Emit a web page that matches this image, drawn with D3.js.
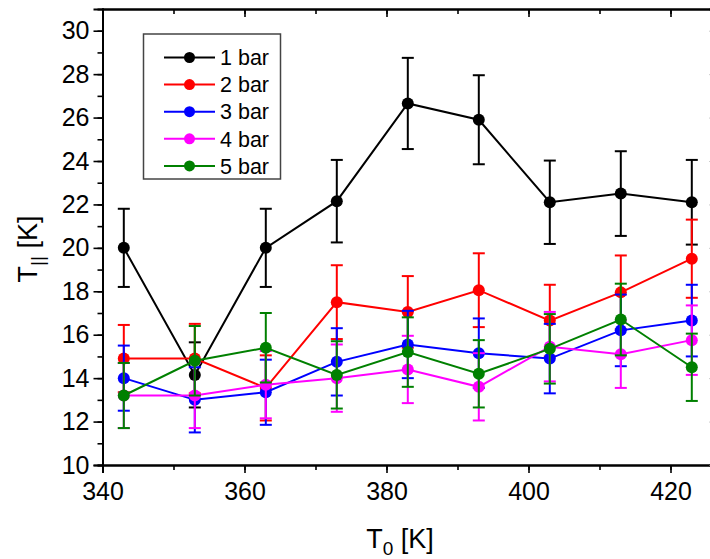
<!DOCTYPE html>
<html>
<head>
<meta charset="utf-8">
<script src="https://cdn.jsdelivr.net/npm/d3@7"></script>
<style>
  html, body { margin: 0; padding: 0; background: #fff; }
  svg { display: block; font-family: "Liberation Sans", Arial, sans-serif; }
</style>
</head>
<body>
<svg id="chart" width="710" height="559"></svg>
<script>
// Temperature of the source (x) and parallel temperature per pressure series
const temps = [343, 353, 363, 373, 383, 393, 403, 413, 423];
const seriesNames = ["1 bar", "2 bar", "3 bar", "4 bar", "5 bar"];
const seriesColors = ["#000000", "#ff0000", "#0000ff", "#ff00ff", "#008000"];

const tPar1 = [20.0, 14.15, 20.0, 22.15, 26.65, 25.9, 22.1, 22.5, 22.1];
const err1  = [1.8, 1.5, 1.8, 1.9, 2.1, 2.05, 1.92, 1.95, 1.95];
const tPar2 = [14.9, 14.9, 13.55, 17.5, 17.05, 18.05, 16.65, 17.95, 19.5];
const err2  = [1.55, 1.6, 1.5, 1.7, 1.65, 1.7, 1.65, 1.7, 1.8];
const tPar3 = [14.0, 13.0, 13.35, 14.75, 15.55, 15.15, 14.9, 16.2, 16.65];
const err3  = [1.5, 1.5, 1.5, 1.55, 1.55, 1.6, 1.6, 1.65, 1.65];
const tPar4 = [13.2, 13.2, 13.7, 14.0, 14.4, 13.6, 15.45, 15.1, 15.75];
const err4  = [1.5, 1.5, 1.55, 1.55, 1.55, 1.55, 1.6, 1.55, 1.6];
const tPar5 = [13.2, 14.8, 15.4, 14.15, 15.2, 14.2, 15.35, 16.7, 14.5];
const err5  = [1.5, 1.6, 1.6, 1.55, 1.6, 1.55, 1.6, 1.65, 1.55];

const xTicks = [340, 360, 380, 400, 420];
const yTicks = [10, 12, 14, 16, 18, 20, 22, 24, 26, 28, 30];

const values = [tPar1, tPar2, tPar3, tPar4, tPar5];
const errors = [err1, err2, err3, err4, err5];

const svg = d3.select("#chart");
const plotLeft = 102.5, plotRight = 712, plotTop = 9, plotBottom = 465;

const x = d3.scaleLinear().domain([340, 340 + (plotRight - plotLeft) / 7.1]).range([plotLeft, plotRight]);
const y = d3.scaleLinear().domain([10, 31]).range([plotBottom, plotTop]);

const minorX = d3.range(340, 426, 10);
const minorY = d3.range(10, 31, 1);

// Frame: left and bottom with outward ticks, top and right with inward ticks
svg.append("g").attr("transform", `translate(0,${plotBottom})`)
  .call(d3.axisBottom(x).tickValues(minorX).tickSize(5).tickFormat(""));
const bottomMajor = svg.append("g").attr("transform", `translate(0,${plotBottom})`)
  .call(d3.axisBottom(x).tickValues(xTicks).tickSize(8).tickPadding(6).tickFormat(d3.format("d")));

svg.append("g").attr("transform", `translate(${plotLeft},0)`)
  .call(d3.axisLeft(y).tickValues(minorY).tickSize(5).tickFormat(""));
svg.append("g").attr("transform", `translate(${plotLeft},0)`)
  .call(d3.axisLeft(y).tickValues(yTicks).tickSize(9).tickPadding(4).tickFormat(d3.format("d")));

svg.append("g").attr("transform", `translate(0,${plotTop})`)
  .call(d3.axisBottom(x).tickValues(minorX).tickSize(5).tickFormat(""));
svg.append("g").attr("transform", `translate(0,${plotTop})`)
  .call(d3.axisBottom(x).tickValues(xTicks).tickSize(8).tickFormat(""));

const rightFrame = svg.append("g").attr("transform", `translate(${plotRight},0)`)
  .call(d3.axisLeft(y).tickValues(yTicks).tickSize(2.5).tickFormat(""));

svg.selectAll(".domain").attr("stroke-width", 2).attr("stroke", "#000");
svg.selectAll(".tick line").attr("stroke-width", 1.6).attr("stroke", "#000");
rightFrame.selectAll(".tick line").attr("stroke", "#999").attr("stroke-width", 1);
svg.selectAll(".tick text").attr("font-size", 25).attr("fill", "#000")
  .attr("font-family", "Liberation Sans, Arial, sans-serif");
bottomMajor.selectAll(".tick text").attr("dy", "0.82em");

// Axis titles
const yTitle = svg.append("text")
  .attr("transform", `translate(37,${(plotTop + plotBottom) / 2 + 12}) rotate(-90)`)
  .attr("text-anchor", "middle").attr("font-size", 27).attr("fill", "#000");
yTitle.append("tspan").text("T");
yTitle.append("tspan").attr("font-size", 19).attr("dy", 7).text("||");
yTitle.append("tspan").attr("dy", -7).text(" [K]");

const xTitle = svg.append("text")
  .attr("x", 400).attr("y", 548)
  .attr("text-anchor", "middle").attr("font-size", 27).attr("fill", "#000");
xTitle.append("tspan").text("T");
xTitle.append("tspan").attr("font-size", 19).attr("dy", 7).text("0");
xTitle.append("tspan").attr("dy", -7).text(" [K]");

// Series: connecting line, error bars, circular markers
const line = d3.line().x((d, i) => x(temps[i])).y(d => y(d));
const capHalf = 6;

values.forEach((vals, s) => {
  const color = seriesColors[s];
  const g = svg.append("g");
  g.append("path").datum(vals).attr("d", line)
    .attr("fill", "none").attr("stroke", color).attr("stroke-width", 2);
  const eb = g.selectAll(".eb").data(vals).join("g").attr("stroke", color).attr("stroke-width", 2);
  eb.append("line")
    .attr("x1", (d, i) => x(temps[i])).attr("x2", (d, i) => x(temps[i]))
    .attr("y1", (d, i) => y(d + errors[s][i])).attr("y2", (d, i) => y(d - errors[s][i]));
  eb.append("line")
    .attr("x1", (d, i) => x(temps[i]) - capHalf).attr("x2", (d, i) => x(temps[i]) + capHalf)
    .attr("y1", (d, i) => y(d + errors[s][i])).attr("y2", (d, i) => y(d + errors[s][i]));
  eb.append("line")
    .attr("x1", (d, i) => x(temps[i]) - capHalf).attr("x2", (d, i) => x(temps[i]) + capHalf)
    .attr("y1", (d, i) => y(d - errors[s][i])).attr("y2", (d, i) => y(d - errors[s][i]));
  g.selectAll("circle").data(vals).join("circle")
    .attr("cx", (d, i) => x(temps[i])).attr("cy", d => y(d))
    .attr("r", 6).attr("fill", color);
});

// Legend
const legend = svg.append("g");
legend.append("rect").attr("x", 143.5).attr("y", 34).attr("width", 137).attr("height", 145)
  .attr("fill", "#fff").attr("stroke", "#444").attr("stroke-width", 1.5);
seriesNames.forEach((name, s) => {
  const ly = 57.5 + s * 27.1;
  legend.append("line").attr("x1", 164).attr("x2", 215).attr("y1", ly).attr("y2", ly)
    .attr("stroke", seriesColors[s]).attr("stroke-width", 2);
  legend.append("circle").attr("cx", 189.5).attr("cy", ly).attr("r", 5.5).attr("fill", seriesColors[s]);
  legend.append("text").attr("x", 220).attr("y", ly).attr("dy", "0.36em")
    .attr("font-size", 21.5).attr("fill", "#000").text(name);
});
</script>
</body>
</html>
